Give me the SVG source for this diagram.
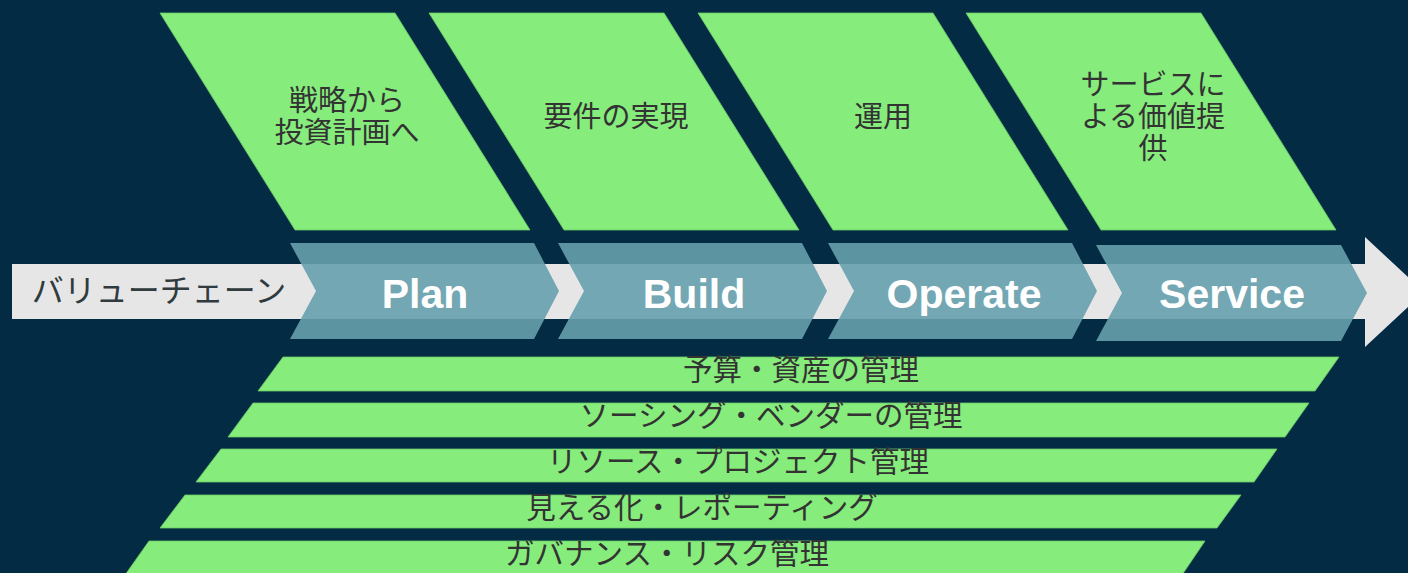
<svg xmlns="http://www.w3.org/2000/svg" width="1408" height="573" viewBox="0 0 1408 573">
  <style>
    .green { fill: #86EC7C; stroke: #6CCB66; stroke-width: 0.8; }
    .chev { fill: #66A0AD; fill-opacity: 0.9; }
    .jp { font-family: "Noto Sans CJK JP", "Noto Sans", sans-serif; fill: #333333; text-anchor: middle; }
    .top { font-size: 29px; }
    .bar { font-size: 29.5px; }
    .vc { font-size: 32px; fill: #2F3B3D; }
    .en { font-family: "Liberation Sans", Arial, sans-serif; font-weight: bold; font-size: 41px; fill: #FFFFFF; text-anchor: middle; }
  </style>
  <rect x="0" y="0" width="1408" height="573" fill="#032B44"/>

  <!-- top phase descriptions -->
  <g id="phase-plan-desc">
    <polygon class="green" points="160,13 395,13 530,230 295,230"/>
    <text class="jp top" x="347" y="111">戦略から</text>
    <text class="jp top" x="347" y="143">投資計画へ</text>
  </g>
  <g id="phase-build-desc">
    <polygon class="green" points="429,13 664,13 799,230 564,230"/>
    <text class="jp top" x="616" y="127">要件の実現</text>
  </g>
  <g id="phase-operate-desc">
    <polygon class="green" points="698,13 933,13 1068,230 833,230"/>
    <text class="jp top" x="883" y="127">運用</text>
  </g>
  <g id="phase-service-desc">
    <polygon class="green" points="966,13 1201,13 1336,230 1101,230"/>
    <text class="jp top" x="1153" y="95">サービスに</text>
    <text class="jp top" x="1153" y="127">よる価値提</text>
    <text class="jp top" x="1153" y="159">供</text>
  </g>

  <!-- value chain arrow -->
  <g id="connectors">
    <polygon points="12,264 1365,264 1365,237 1424,292 1365,347 1365,319 12,319" fill="#E6E6E6"/>
  </g>
  <g id="value-chain-label">
    <text class="jp vc" x="159" y="302">バリューチェーン</text>
  </g>

  <!-- phase chevrons -->
  <g id="phase-plan">
    <polygon class="chev" points="290,243 534,243 559,291 534,339 290,339 316,291"/>
    <text class="en" x="425" y="308">Plan</text>
  </g>
  <g id="phase-build">
    <polygon class="chev" points="558,243 802,243 827,291 802,339 558,339 584,291"/>
    <text class="en" x="694" y="308">Build</text>
  </g>
  <g id="phase-operate">
    <polygon class="chev" points="828,243 1072,243 1097,291 1072,339 828,339 854,291"/>
    <text class="en" x="964" y="308">Operate</text>
  </g>
  <g id="phase-service">
    <polygon class="chev" points="1096,245 1341,245 1367,293 1341,341 1096,341 1122,293"/>
    <text class="en" x="1232" y="308">Service</text>
  </g>

  <!-- cross-cutting management bars -->
  <g id="bar-budget">
    <polygon class="green" points="283,357 1339,357 1315,391 258,391"/>
    <text class="jp bar" x="801" y="380">予算・資産の管理</text>
  </g>
  <g id="bar-sourcing">
    <polygon class="green" points="253,403 1309,403 1285,437 228,437"/>
    <text class="jp bar" x="771" y="426">ソーシング・ベンダーの管理</text>
  </g>
  <g id="bar-resource">
    <polygon class="green" points="221,449 1277,449 1254,482 196,482"/>
    <text class="jp bar" x="738" y="472">リソース・プロジェクト管理</text>
  </g>
  <g id="bar-visibility">
    <polygon class="green" points="185,495 1241,495 1217,528 160,528"/>
    <text class="jp bar" x="702" y="518">見える化・レポーティング</text>
  </g>
  <g id="bar-governance">
    <polygon class="green" points="149,541 1205,541 1182,575 125,575"/>
    <text class="jp bar" x="667" y="564">ガバナンス・リスク管理</text>
  </g>
</svg>
